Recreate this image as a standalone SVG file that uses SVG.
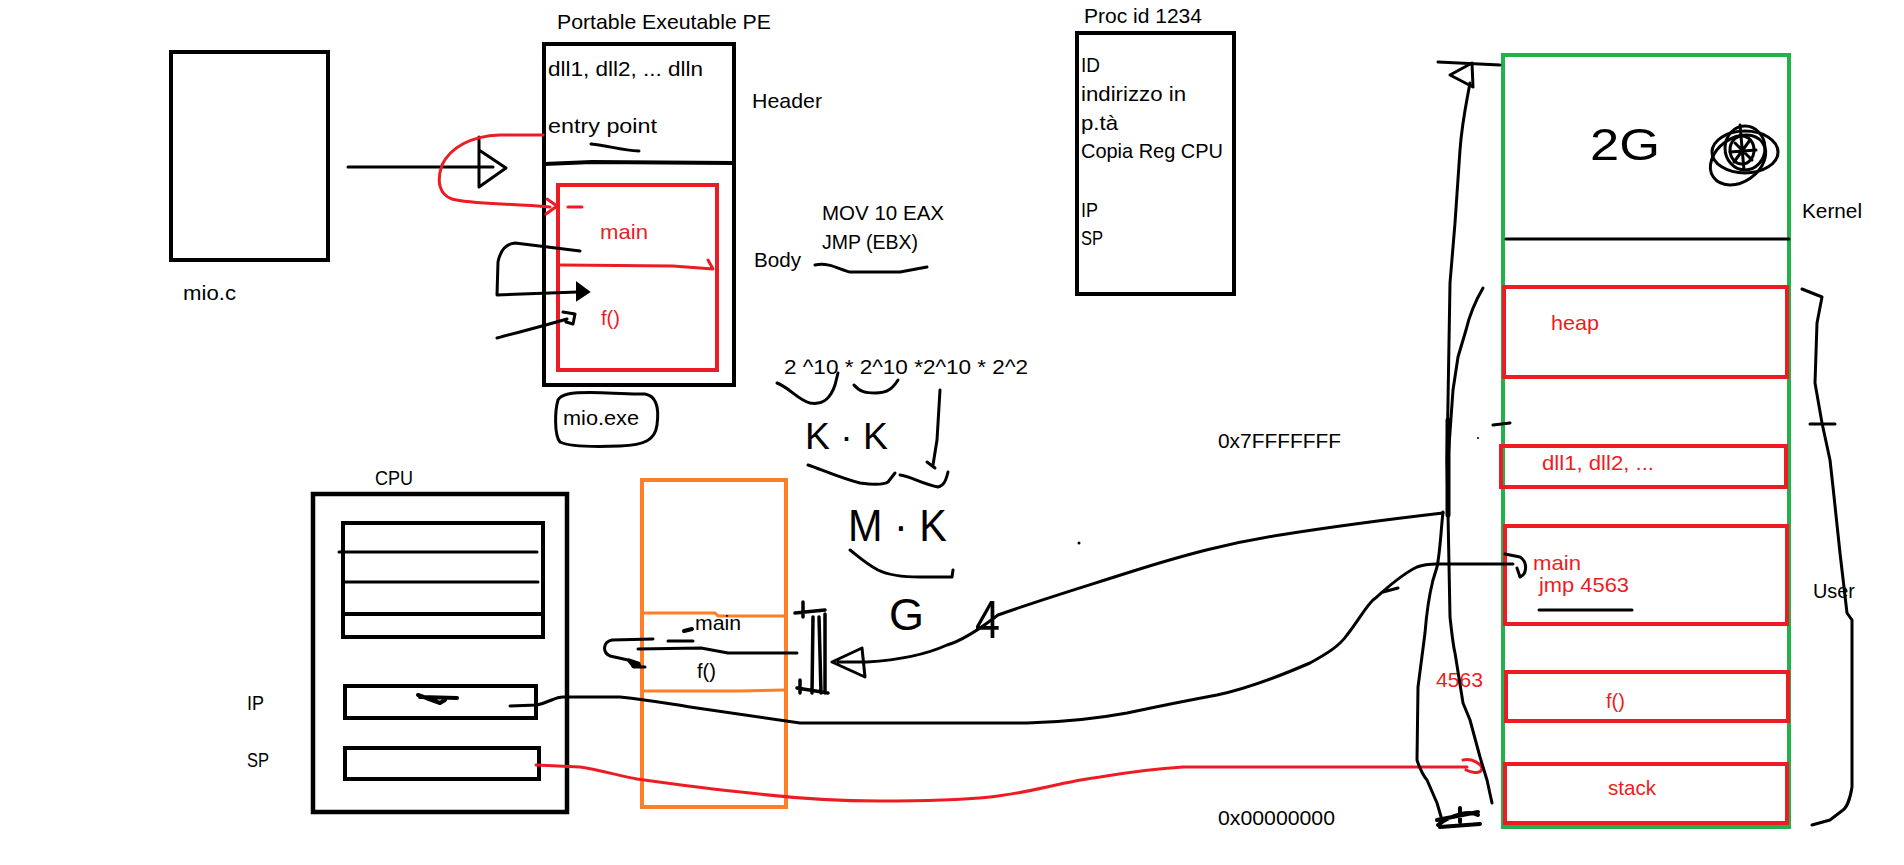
<svg xmlns="http://www.w3.org/2000/svg" width="1904" height="865" viewBox="0 0 1904 865">
<style>
text{font-family:"Liberation Sans",Arial,sans-serif;font-size:21px;fill:#000}
.r{fill:#ED1C24}
.hw{font-size:44px}
.box{fill:none;stroke:#000;stroke-width:4}
.rbox{fill:none;stroke:#ED1C24;stroke-width:4}
.ln{fill:none;stroke:#000;stroke-width:3;stroke-linecap:round;stroke-linejoin:round}
.rln{fill:none;stroke:#ED1C24;stroke-width:3;stroke-linecap:round;stroke-linejoin:round}
</style>
<rect width="1904" height="865" fill="#fff"/>

<g id="mio_c">
<rect class="box" x="171" y="52" width="157" height="208"/>
<text x="183" y="300" textLength="53" lengthAdjust="spacingAndGlyphs">mio.c</text>
</g>

<g id="pe">
<text x="557" y="29" textLength="214" lengthAdjust="spacingAndGlyphs">Portable Exeutable PE</text>
<rect class="box" x="544" y="44" width="190" height="341"/>
<path class="ln" d="M544 164 L592 162 L733 163" style="stroke-width:4"/>
<text x="548" y="76" textLength="155" lengthAdjust="spacingAndGlyphs">dll1, dll2, ... dlln</text>
<text x="548" y="133" textLength="109" lengthAdjust="spacingAndGlyphs">entry point</text>
<path class="ln" d="M591 144 C610 146 620 150 639 151"/>
<text x="752" y="108" textLength="70" lengthAdjust="spacingAndGlyphs">Header</text>
<text x="754" y="267" textLength="47" lengthAdjust="spacingAndGlyphs">Body</text>
<rect class="rbox" x="558" y="185" width="159" height="185"/>
<path class="rln" d="M561 265 L673 266 L713 269 M708 260 L713 269"/>
<path class="rln" d="M568 207 L582 207"/>
<text class="r" x="600" y="239" textLength="48" lengthAdjust="spacingAndGlyphs">main</text>
<text class="r" x="601" y="325" textLength="19" lengthAdjust="spacingAndGlyphs">f()</text>
</g>

<g id="mio_exe">
<path class="ln" d="M568 394 C590 390 620 395 645 394 C657 396 659 410 657 425 C655 440 645 445 620 446 C595 447 570 447 560 442 C554 435 555 410 558 400 C560 396 564 395 568 394 Z"/>
<text x="563" y="425" textLength="76" lengthAdjust="spacingAndGlyphs">mio.exe</text>
</g>

<g id="code">
<text x="822" y="220" textLength="122" lengthAdjust="spacingAndGlyphs">MOV 10 EAX</text>
<text x="822" y="249" textLength="96" lengthAdjust="spacingAndGlyphs">JMP (EBX)</text>
<path class="ln" d="M815 265 C830 262 840 270 850 272 L900 272 L927 267"/>
</g>

<g id="formula">
<text x="784" y="374" textLength="244" lengthAdjust="spacingAndGlyphs">2 ^10 * 2^10 *2^10 * 2^2</text>
<path class="ln" d="M777 383 C790 388 798 400 810 403 C822 405 830 400 835 385 L838 373"/>
<path class="ln" d="M854 385 C860 392 866 393 875 393 C888 393 893 388 898 380"/>
<path class="ln" d="M940 390 L937 440 L933 465 M927 462 L935 468"/>
<text class="hw" x="805" y="449" textLength="83" lengthAdjust="spacingAndGlyphs" style="font-size:36px">K · K</text>
<path class="ln" d="M808 465 C818 468 840 478 860 483 C875 485 885 484 888 482 L895 473 M900 475 C910 476 920 483 938 487 C944 486 946 480 948 472"/>
<text class="hw" x="848" y="541" textLength="99" lengthAdjust="spacingAndGlyphs">M · K</text>
<path class="ln" d="M850 550 C858 556 865 563 878 570 C890 576 905 577 920 577 L952 577 L953 570"/>
<text class="hw" x="889" y="630" textLength="35" lengthAdjust="spacingAndGlyphs">G</text>
<text class="hw" x="975" y="638" textLength="25" lengthAdjust="spacingAndGlyphs" style="font-size:54px">4</text>
<circle cx="1079" cy="543" r="1.5" fill="#000"/>
</g>

<g id="proc">
<text x="1084" y="23" textLength="118" lengthAdjust="spacingAndGlyphs">Proc id 1234</text>
<rect class="box" x="1077" y="33" width="157" height="261"/>
<text x="1081" y="72" textLength="19" lengthAdjust="spacingAndGlyphs">ID</text>
<text x="1081" y="101" textLength="105" lengthAdjust="spacingAndGlyphs">indirizzo in</text>
<text x="1081" y="130" textLength="37" lengthAdjust="spacingAndGlyphs">p.tà</text>
<text x="1081" y="158" textLength="142" lengthAdjust="spacingAndGlyphs">Copia Reg CPU</text>
<text x="1081" y="217" textLength="17" lengthAdjust="spacingAndGlyphs">IP</text>
<text x="1081" y="245" textLength="22" lengthAdjust="spacingAndGlyphs">SP</text>
</g>

<g id="cpu">
<text x="375" y="485" textLength="38" lengthAdjust="spacingAndGlyphs">CPU</text>
<rect class="box" x="313" y="494" width="254" height="318" style="stroke-width:4.5"/>
<rect class="box" x="343" y="523" width="200" height="114"/>
<path class="ln" d="M339 552 L537 552 M344 582 L538 582"/>
<path class="ln" d="M343 614 L543 614" style="stroke-width:4"/>
<rect class="box" x="345" y="686" width="191" height="32"/>
<rect class="box" x="345" y="748" width="194" height="31"/>
<path class="ln" d="M457 698 L420 697 M418 695 L440 703 L445 700" style="stroke-width:4"/>
<text x="247" y="710" textLength="17" lengthAdjust="spacingAndGlyphs">IP</text>
<text x="247" y="767" textLength="22" lengthAdjust="spacingAndGlyphs">SP</text>
</g>

<g id="stack_frames">
<rect x="642" y="480" width="144" height="327" fill="none" stroke="#FF7F27" stroke-width="4"/>
<path d="M644 613 L715 613 L718 616 L784 616 M644 691 L739 691 L784 690" fill="none" stroke="#FF7F27" stroke-width="3"/>
<text x="695" y="630" textLength="46" lengthAdjust="spacingAndGlyphs">main</text>
<text x="697" y="678" textLength="19" lengthAdjust="spacingAndGlyphs">f()</text>
</g>

<g id="addresses">
<text x="1218" y="448" textLength="123" lengthAdjust="spacingAndGlyphs">0x7FFFFFFF</text>
<text x="1218" y="825" textLength="117" lengthAdjust="spacingAndGlyphs">0x00000000</text>
</g>

<g id="memory">
<rect x="1503" y="55" width="286" height="772" fill="none" stroke="#22B14C" stroke-width="4"/>
<path class="ln" d="M1506 239 L1789 239"/>
<text class="hw" x="1590" y="160" textLength="70" lengthAdjust="spacingAndGlyphs">2G</text>
<g class="ln">
<ellipse cx="1745" cy="152" rx="33" ry="21"/>
<ellipse cx="1738" cy="160" rx="30" ry="22" transform="rotate(-35 1738 160)"/>
<ellipse cx="1745" cy="148" rx="20" ry="22"/>
<ellipse cx="1742" cy="150" rx="12" ry="14"/>
<path d="M1735 143 L1752 160 M1750 140 L1734 162 M1730 152 L1756 150 M1740 125 L1744 170"/>
</g>
<text x="1802" y="218" textLength="60" lengthAdjust="spacingAndGlyphs">Kernel</text>
<rect class="rbox" x="1504" y="287" width="283" height="90"/>
<text class="r" x="1551" y="330" textLength="48" lengthAdjust="spacingAndGlyphs">heap</text>
<rect class="rbox" x="1501" y="446" width="285" height="41"/>
<text class="r" x="1542" y="470" textLength="112" lengthAdjust="spacingAndGlyphs">dll1, dll2, ...</text>
<rect class="rbox" x="1505" y="526" width="282" height="98"/>
<text class="r" x="1533" y="570" textLength="48" lengthAdjust="spacingAndGlyphs">main</text>
<text class="r" x="1539" y="592" textLength="90" lengthAdjust="spacingAndGlyphs">jmp 4563</text>
<path class="ln" d="M1539 610 L1632 610"/>
<rect class="rbox" x="1506" y="672" width="282" height="49"/>
<text class="r" x="1606" y="708" textLength="19" lengthAdjust="spacingAndGlyphs">f()</text>
<rect class="rbox" x="1505" y="764" width="282" height="59"/>
<text class="r" x="1608" y="795" textLength="48" lengthAdjust="spacingAndGlyphs">stack</text>
<text class="r" x="1436" y="687" textLength="47" lengthAdjust="spacingAndGlyphs">4563</text>
<path class="ln" d="M1802 289 L1822 297 L1817 323 L1815 383 L1822 423 L1830 460 L1833 487 L1840 553 L1847 613 L1852 620 L1852 787 C1850 800 1846 808 1843 810 L1830 820 L1812 825 M1810 424 L1835 424"/>
<text x="1813" y="598" textLength="42" lengthAdjust="spacingAndGlyphs">User</text>
</g>

<g id="connectors">
<path class="ln" d="M348 167 L493 167 M479 137 L479 187 M479 150 L506 168 L479 187"/>
<path class="rln" d="M543 135 L500 135 C470 136 450 148 442 165 C436 182 440 195 452 199 C470 204 500 203 550 207 M547 199 L557 206 L546 214"/>
<path class="ln" d="M580 251 L515 243 C505 244 500 252 498 262 L497 295 L578 292"/>
<path d="M577 283 L589 292 L577 300 Z" fill="#000" stroke="#000" stroke-width="2"/>
<path class="ln" d="M497 338 C515 333 540 327 567 319 M563 312 L575 314 L573 324 L566 322"/>
<path class="ln" d="M1443 513 C1400 518 1330 527 1280 535 C1230 543 1190 553 1127 573 C1080 588 1040 600 998 615 C985 625 965 640 947 645 C925 655 900 660 867 662 L838 662 M862 648 L832 662 L865 677 Z"/>
<path class="ln" d="M795 613 L825 610 M803 602 L803 617 M813 617 L812 693 M819 617 L821 693 M825 614 L825 693 M797 688 L828 693 M800 680 L800 693" style="stroke-width:3.5"/>
<path class="ln" d="M510 706 L537 705 C550 702 555 697 563 697 L620 697 C650 700 670 704 690 707 L800 723 L1027 723 C1070 722 1100 718 1127 713 C1160 706 1190 700 1217 695 C1250 688 1280 676 1310 663 C1330 652 1340 645 1347 635 C1360 618 1365 608 1373 600 C1385 590 1400 575 1417 567 C1425 564 1430 564 1437 564 L1513 564 M1505 554 L1520 557 C1528 562 1527 574 1520 577 L1517 568 M1383 592 L1398 588"/>
<path class="rln" d="M536 765 L580 767 C600 770 620 776 637 779 C680 785 720 790 750 793 C800 799 850 801 880 801 C930 801 960 800 990 797 C1030 793 1060 782 1100 777 C1130 772 1150 769 1183 767 L1467 767 M1463 760 C1472 758 1482 764 1482 769 C1480 775 1470 772 1466 770"/>
<path class="ln" d="M653 639 L612 640 C603 642 602 652 610 656 L628 660 L634 667 L645 667 M638 649 L701 648 L728 653 L797 653 M668 641 L693 641"/>
<path d="M628 658 L640 662 L642 668 L632 668 Z" fill="#000"/>
<path class="ln" d="M684 631 L692 629" style="stroke-width:4"/>
<path class="ln" d="M1438 62 L1500 65 M1450 75 L1472 63 L1473 87 Z"/>
<path class="ln" d="M1470 83 C1465 110 1462 123 1460 150 L1455 223 L1450 283 L1447 460 L1448 513 L1450 617 C1452 635 1453 645 1455 653 L1463 703 L1470 720 L1480 757 L1487 780 L1492 803"/>
<path class="ln" d="M1448 420 L1448 515" style="stroke-width:5"/>
<path class="ln" d="M1483 288 C1476 300 1470 313 1466 330 L1458 357 L1453 390 L1448 460"/>
<path class="ln" d="M1443 512 C1441 530 1440 553 1437 567 L1433 580 C1428 600 1426 620 1425 633 L1418 687 L1417 760 C1420 770 1425 778 1427 780 L1437 803 L1442 820"/>
<path class="ln" d="M1437 820 L1478 812 M1440 827 L1480 824 M1438 825 C1450 815 1470 810 1478 815 M1460 808 L1460 822" style="stroke-width:4"/>
<path class="ln" d="M1493 425 L1510 423"/>
<circle cx="1478" cy="438" r="1" fill="#000"/>
</g>
</svg>
